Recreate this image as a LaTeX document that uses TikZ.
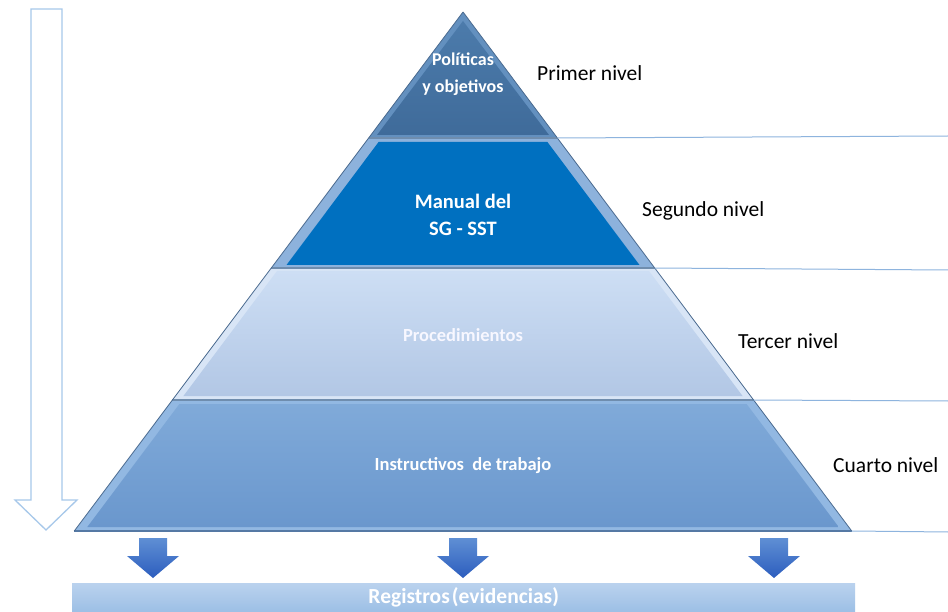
\documentclass[tikz,border=0pt]{standalone}
\usepackage{fontspec}
\setmainfont{Carlito}
\begin{document}
\begin{tikzpicture}[x=1pt,y=-1pt,
  lvltext/.style={text=white,font=\bfseries\fontsize{18.5}{27}\selectfont,align=center},
  nivel/.style={anchor=west,text=black,font=\fontsize{21.5}{26}\selectfont,inner sep=0pt},
  guide/.style={draw=guideblue,line width=1pt},
  sep/.style={draw=sepcol,line width=1.2pt},
  downarrow/.style={top color=arrtop,bottom color=arrbot,draw=none}
]
\definecolor{guideblue}{HTML}{8EB4DE}
\definecolor{sepcol}{HTML}{6F8DAE}
\definecolor{arrtop}{HTML}{5F8FD4}
\definecolor{arrbot}{HTML}{2C5DBE}
\definecolor{bevA}{HTML}{6390BF}
\definecolor{inAt}{HTML}{4C7BAB}
\definecolor{inAb}{HTML}{3F6B9A}
\definecolor{bevB}{HTML}{8DB2DC}
\definecolor{inB}{HTML}{0070C0}
\definecolor{bevC}{HTML}{D8E5F6}
\definecolor{inCt}{HTML}{CDDEF4}
\definecolor{inCb}{HTML}{B2C7E5}
\definecolor{bevD}{HTML}{92B8E2}
\definecolor{inDt}{HTML}{80AAD9}
\definecolor{inDb}{HTML}{6A97CD}
\definecolor{barT}{HTML}{BAD2EE}
\definecolor{barB}{HTML}{9CBFE5}
\definecolor{leftarr}{HTML}{A7C8EA}

\useasboundingbox (0,0) rectangle (948,612);
\fill[white] (0,0) rectangle (948,612);

% left hollow arrow
\draw[draw=leftarr,line width=1.3pt,fill=white,line join=miter]
  (31,9) -- (62,9) -- (62,500) -- (77,500) -- (46,530) -- (15,500) -- (31,500) -- cycle;

% level 1
\fill[bevA] (463,12) -- (557.4,138) -- (368.6,138) -- cycle;
\shade[top color=inAt,bottom color=inAb] (463,21) -- (549,135) -- (377,135) -- cycle;
% level 2
\fill[bevB] (368.6,138) -- (557.4,138) -- (654.7,268) -- (271.3,268) -- cycle;
\fill[inB] (378.6,142) -- (547.4,142) -- (639.5,265) -- (286.5,265) -- cycle;
% level 3
\fill[bevC] (271.3,268) -- (654.7,268) -- (753.6,400) -- (172.4,400) -- cycle;
\shade[top color=inCt,bottom color=inCb] (277,271) -- (649,271) -- (742.6,396) -- (183.4,396) -- cycle;
% level 4
\fill[bevD] (172.4,400) -- (753.6,400) -- (851.7,531) -- (74.3,531) -- cycle;
\shade[top color=inDt,bottom color=inDb] (179.4,404) -- (746.6,404) -- (838.7,527) -- (87.3,527) -- cycle;

% separators
\coordinate (l1) at (368.6,138); \coordinate (r1) at (557.4,138);
\coordinate (l2) at (271.3,268); \coordinate (r2) at (654.7,268);
\coordinate (l3) at (172.4,400); \coordinate (r3) at (753.6,400);
\coordinate (l4) at (74.3,531);  \coordinate (r4) at (851.7,531);
\draw[sep] (l1) -- (r1);
\draw[sep] (l2) -- (r2);
\draw[sep] (l3) -- (r3);
\draw[sep,draw=inDb!80!black] (l4) -- (r4);
\draw[draw=inDb!70!black,line width=0.8pt] (463,12) -- (l4);
\draw[draw=inDb!70!black,line width=0.8pt] (463,12) -- (r4);

% guide lines to the right
\coordinate (e1) at (948,136); \coordinate (e2) at (948,270);
\coordinate (e3) at (948,401); \coordinate (e4) at (948,532);
\draw[guide] (r1) -- (e1);
\draw[guide] (r2) -- (e2);
\draw[guide] (r3) -- (e3);
\draw[guide] (r4) -- (e4);

% texts inside
\node[lvltext,font=\bfseries\fontsize{18}{27}\selectfont] (t1) at (463,74) {Políticas\\y objetivos};
\node[lvltext,font=\bfseries\fontsize{20.5}{27}\selectfont] (t2) at (463,215) {Manual del\\SG - SST};
\node[lvltext,text=white!97!blue] (t3) at (463,335) {Procedimientos};
\node[lvltext] (t4) at (463,466) {Instructivos~ de trabajo};

% level labels
\node[nivel] (n1) at (537,73) {Primer nivel};
\node[nivel] (n2) at (642,211) {Segundo nivel};
\node[nivel] (n3) at (738,341) {Tercer nivel};
\node[nivel] (n4) at (833,465) {Cuarto nivel};

% bottom bar
\node[shade,top color=barT,bottom color=barB,minimum width=783pt,minimum height=29pt,
  inner sep=0pt,anchor=north west,text=white,font=\bfseries\fontsize{21.5}{24}\selectfont]
  (reg) at (72,583) {Registros\hspace{0.1em}(evidencias)};

% bottom arrows
\foreach \cx/\nm in {153/a1,463/a2,774/a3}{
  \shade[downarrow] (\cx-14,538) -- (\cx+14,538) -- (\cx+14,556) -- (\cx+26,556)
     -- (\cx,578) -- (\cx-26,556) -- (\cx-14,556) -- cycle;
  \coordinate (\nm) at (\cx,578);
}
\end{tikzpicture}
\end{document}
